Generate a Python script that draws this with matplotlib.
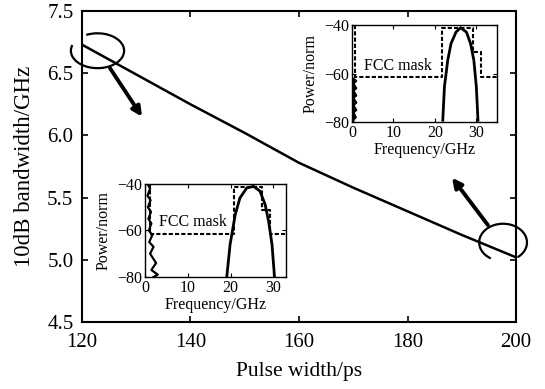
import numpy as np
import matplotlib.pyplot as plt
from matplotlib.patches import Arc

plt.rcParams['font.family'] = ['Liberation Serif', 'DejaVu Serif']

# main curve: 10 dB bandwidth vs pulse width
pulse_width = [120, 130, 140, 150, 160, 170, 180, 190, 200]
bandwidth = [6.73, 6.49, 6.25, 6.02, 5.78, 5.58, 5.39, 5.20, 5.02]
y_ticks = [4.5, 5.0, 5.5, 6.0, 6.5, 7.0]
y_tick_labels = ['4.5', '5.0', '5.5', '6.0', '6.5', '7.5']

# inset A (200 ps pulse) spectrum
freq_a = [21.9, 22.3, 23.1, 23.9, 25.1, 26.2, 27.6, 28.6, 29.4, 30.0, 30.4]
power_a = [-79.2, -65.4, -54.4, -47.5, -42.8, -41.0, -42.8, -47.5, -54.4, -65.4, -79.2]
low_f_a = [0.3, 0.3, 1.0, 0.3, 1.0, 0.3, 1.0, 0.3, 1.0, 0.3, 1.0, 0.3, 0.9, 0.3]
low_p_a = [-80, -62, -63, -64, -66, -67, -69, -70, -72, -73, -75, -76, -78, -79]
mask_f_a = [0.8, 0.8, 21.8, 21.8, 29.2, 29.2, 31.2, 31.2, 35]
mask_p_a = [-40, -61.3, -61.3, -41.3, -41.3, -51.1, -51.1, -61.3, -61.3]

# inset B (120 ps pulse) spectrum
freq_b = [19.1, 19.9, 21.1, 22.2, 23.8, 25.4, 26.9, 28.1, 28.9, 29.7, 30.3]
power_b = [-80.4, -66.0, -53.2, -46.0, -41.7, -41.0, -43.1, -48.9, -56.0, -66.0, -80.4]
low_f_b = [0.6, 1.2, 0.6, 1.3, 0.7, 1.4, 0.8, 1.5, 0.9, 1.7, 1.0, 2.0, 1.2, 2.6, 1.5, 3.0, 2.0]
low_p_b = [-40, -42, -45, -47, -50, -52, -55, -57, -60, -62, -65, -67, -70, -74, -77, -79, -80]
mask_f_b = [1.2, 1.2, 20.7, 20.7, 27.3, 27.3, 29.3, 29.3, 33]
mask_p_b = [-40, -61.5, -61.5, -41.3, -41.3, -51.0, -51.0, -61.5, -61.5]

fig = plt.figure(figsize=(5.45, 3.89), dpi=100)
ax = fig.add_axes([0.150, 0.172, 0.797, 0.800])
ax.plot(pulse_width, bandwidth, color='black', lw=1.8)
ax.set_xlim(120, 200)
ax.set_ylim(4.5, 7.0)
ax.set_xticks([120, 140, 160, 180, 200])
ax.set_yticks(y_ticks)
ax.set_yticklabels(y_tick_labels)
ax.tick_params(direction='in', top=True, right=True, labelsize=15, length=4, width=1.2)
ax.tick_params(axis='x', pad=8)
ax.tick_params(axis='y', pad=6)
for s in ax.spines.values():
    s.set_linewidth(1.5)
ax.set_xlabel('Pulse width/ps', fontsize=15.5, labelpad=7)
ax.set_ylabel('10dB bandwidth/GHz', fontsize=16.5, labelpad=9)


def loop(center, w, h, t1, t2):
    # Arc stretches its angles for non-circular shapes; undo that so t1/t2 are parametric
    def conv(t):
        t = np.deg2rad(t)
        return np.rad2deg(np.arctan2((h / w) * np.sin(t), np.cos(t)))
    a1 = conv(t1)
    a2 = conv(t2)
    if a2 <= a1:
        a2 += 360
    ax.add_patch(Arc(center, w, h, theta1=a1, theta2=a2, color='black', lw=1.6, clip_on=False))


# loops and arrows pointing at the insets
loop((122.9, 6.68), 9.8, 0.28, 161, 115)
loop((197.6, 5.14), 8.8, 0.30, -53, 239)
ax.annotate('', xy=(131.1, 6.15), xytext=(125.2, 6.54),
            arrowprops=dict(arrowstyle='-|>', color='black', lw=2.8, mutation_scale=14, shrinkA=0, shrinkB=0))
ax.annotate('', xy=(188.2, 5.66), xytext=(194.8, 5.28),
            arrowprops=dict(arrowstyle='-|>', color='black', lw=2.8, mutation_scale=14, shrinkA=0, shrinkB=0))


def draw_inset(rect, f, p, lf, lp, mf, mp, xmax, txt_xy):
    ins = fig.add_axes(rect)
    ins.plot(f, p, color='black', lw=2.0)
    ins.plot(lf, lp, color='black', lw=1.6)
    ins.plot(mf, mp, color='black', lw=1.5, linestyle=(0, (2, 1)))
    ins.set_xlim(0, xmax)
    ins.set_ylim(-80, -40)
    ins.set_xticks([0, 10, 20, 30])
    ins.set_yticks([-80, -60, -40])
    ins.tick_params(direction='in', top=True, right=True, labelsize=11.5, length=3, pad=2)
    ins.set_xlabel('Frequency/GHz', fontsize=11.5, labelpad=1)
    ins.set_ylabel('Power/norm', fontsize=11.5, labelpad=4)
    ins.text(txt_xy[0], txt_xy[1], 'FCC mask', fontsize=11.5, va='center',
             bbox=dict(facecolor='white', edgecolor='none', pad=0.5))
    for s in ins.spines.values():
        s.set_linewidth(1.0)
    return ins


draw_inset([0.646, 0.686, 0.266, 0.249], freq_a, power_a, low_f_a, low_p_a,
           mask_f_a, mask_p_a, 35, (3.0, -57.0))
draw_inset([0.266, 0.288, 0.259, 0.239], freq_b, power_b, low_f_b, low_p_b,
           mask_f_b, mask_p_b, 33, (3.3, -56.5))

fig.savefig('out.png', dpi=100)
